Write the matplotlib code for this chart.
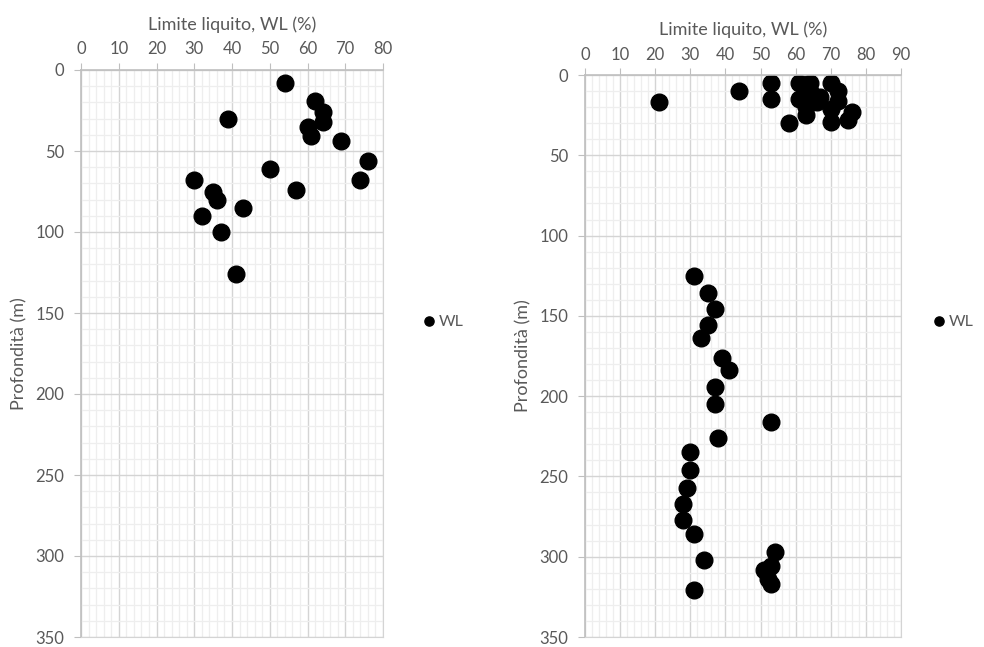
import numpy as np
import matplotlib
matplotlib.use('Agg')
from matplotlib import pyplot as plt
from matplotlib.ticker import MultipleLocator

plt.rcParams['font.family'] = ['Lato', 'DejaVu Sans']

# left chart: liquid limit (%) vs depth (m)
wl_left = [54, 62, 64, 64, 60, 61, 39, 69, 76, 74, 50, 57,
           30, 35, 36, 43, 32, 37, 41]
depth_left = [8, 19, 26, 32, 35, 41, 30, 44, 56, 68, 61, 74,
              68, 75, 80, 85, 90, 100, 126]

# right chart
wl_right = [21, 44, 53, 53, 61, 64, 70, 61, 72, 72, 63, 64, 66, 67,
            70, 63, 70, 76, 75, 58,
            31, 35, 37, 35, 33, 39, 41, 37, 37, 53, 38, 30, 30, 29,
            28, 28, 31, 34, 31, 54, 53, 51, 52, 53]
depth_right = [17, 10, 5, 15, 5, 5, 5, 15, 10, 16, 25, 10, 17, 14,
               21, 20, 29, 23, 28, 30,
               125, 136, 146, 156, 164, 176, 184, 194, 205, 216, 226, 235, 246, 257,
               267, 277, 286, 302, 321, 297, 306, 308, 314, 317]

text_col = '#595959'
fig = plt.figure(figsize=(9.84, 6.47), dpi=100)


def style_axes(ax, xmax):
    ax.set_xlim(0, xmax)
    ax.set_ylim(350, 0)
    ax.xaxis.set_major_locator(MultipleLocator(10))
    ax.xaxis.set_minor_locator(MultipleLocator(2))
    ax.yaxis.set_major_locator(MultipleLocator(50))
    ax.yaxis.set_minor_locator(MultipleLocator(10))
    ax.xaxis.tick_top()
    ax.xaxis.set_label_position('top')
    ax.grid(which='minor', color='#eeeeee', linewidth=0.9)
    ax.grid(which='major', color='#d4d4d4', linewidth=1.0)
    ax.set_axisbelow(True)
    ax.tick_params(which='major', direction='out', length=5, color='#bfbfbf',
                   labelsize=12, labelcolor=text_col, pad=4)
    ax.tick_params(axis='y', pad=7)
    ax.tick_params(which='minor', length=0)
    for s in ['left', 'top']:
        ax.spines[s].set_color('#bfbfbf')
        ax.spines[s].set_linewidth(1.2)
    for s in ['right', 'bottom']:
        ax.spines[s].set_color('#d4d4d4')
    ax.set_xlabel('Limite liquito, WL (%)', fontsize=13, color=text_col, labelpad=8)
    ax.set_ylabel('Profondità (m)', fontsize=13, color=text_col, labelpad=6)


ax1 = fig.add_axes([81 / 984, 1 - 637 / 647, 302 / 984, 567 / 647])
style_axes(ax1, 80)
ax1.plot(wl_left, depth_left, 'o', color='black', markersize=12, label='WL')
ax1.legend(loc='center left', bbox_to_anchor=(1.09, 0.555), frameon=False,
           markerscale=0.55, handlelength=0.6, handletextpad=0.3,
           labelcolor=text_col, fontsize=11.5)

ax2 = fig.add_axes([585 / 984, 1 - 637 / 647, 316 / 984, 562 / 647])
style_axes(ax2, 90)
ax2.plot(wl_right, depth_right, 'o', color='black', markersize=12, label='WL')
ax2.legend(loc='center left', bbox_to_anchor=(1.085, 0.56), frameon=False,
           markerscale=0.55, handlelength=0.6, handletextpad=0.3,
           borderpad=0.2, borderaxespad=0.2,
           labelcolor=text_col, fontsize=11.5)

fig.savefig('out.png', dpi=100)
